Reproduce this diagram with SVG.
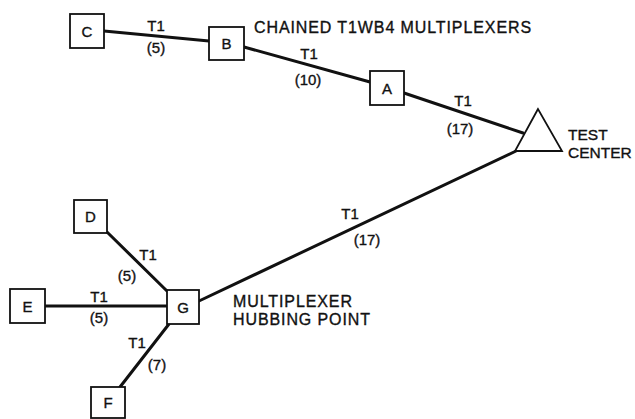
<svg xmlns="http://www.w3.org/2000/svg" width="635" height="419" viewBox="0 0 635 419">
<style>
.box{fill:#fff;stroke:#111;stroke-width:1.8}
.ln{stroke:#111;stroke-width:3;fill:none;stroke-linecap:round}
text{font-family:"Liberation Sans",Arial,sans-serif;fill:#111;stroke:#111;stroke-width:0.35}
.nl{font-size:15px;text-anchor:middle}
.lb{font-size:15px;text-anchor:middle}
.cap{font-size:16px;letter-spacing:0.9px}
.tc{font-size:15.5px}
</style>
<rect width="635" height="419" fill="#fff"/>
<g id="connectors">
<line class="ln" x1="104" y1="31" x2="209" y2="41"/>
<line class="ln" x1="244" y1="47" x2="370" y2="82"/>
<line class="ln" x1="404" y1="93" x2="523" y2="133"/>
<line class="ln" x1="199" y1="301" x2="516" y2="151"/>
<line class="ln" x1="107" y1="232" x2="167" y2="291"/>
<line class="ln" x1="45" y1="306" x2="167" y2="306"/>
<line class="ln" x1="169" y1="324" x2="120" y2="387"/>
<text class="lb" x="156" y="31">T1</text>
<text class="lb" x="156" y="53">(5)</text>
<text class="lb" x="309" y="59">T1</text>
<text class="lb" x="308" y="85">(10)</text>
<text class="lb" x="463" y="106">T1</text>
<text class="lb" x="460" y="134">(17)</text>
<text class="lb" x="350" y="219">T1</text>
<text class="lb" x="367" y="245">(17)</text>
<text class="lb" x="148" y="260">T1</text>
<text class="lb" x="127" y="281">(5)</text>
<text class="lb" x="99" y="302">T1</text>
<text class="lb" x="99" y="323">(5)</text>
<text class="lb" x="137" y="348">T1</text>
<text class="lb" x="157" y="370">(7)</text>
</g>
<g id="C"><rect class="box" x="70" y="14" width="34" height="34"/><text class="nl" x="87" y="36.5">C</text></g>
<g id="B"><rect class="box" x="209" y="27" width="35" height="33"/><text class="nl" x="226.5" y="49">B</text></g>
<g id="A"><rect class="box" x="370" y="71" width="34" height="34"/><text class="nl" x="387" y="93.5">A</text></g>
<g id="TC"><polygon class="box" points="538,109 515,151 562,151"/><text class="tc" x="568" y="140">TEST</text><text class="tc" x="568" y="158">CENTER</text></g>
<g id="D"><rect class="box" x="74" y="200" width="33" height="33"/><text class="nl" x="90.5" y="222">D</text></g>
<g id="E"><rect class="box" x="10" y="289" width="35" height="34"/><text class="nl" x="27.5" y="311.5">E</text></g>
<g id="G"><rect class="box" x="167" y="290" width="32" height="34"/><text class="nl" x="183" y="312.5">G</text></g>
<g id="F"><rect class="box" x="91" y="387" width="34" height="31"/><text class="nl" x="108" y="408">F</text></g>
<g id="titles">
<text class="cap" x="254" y="32.5">CHAINED T1WB4 MULTIPLEXERS</text>
<text class="cap" x="233" y="307">MULTIPLEXER</text>
<text class="cap" x="233" y="325">HUBBING POINT</text>
</g>
</svg>
